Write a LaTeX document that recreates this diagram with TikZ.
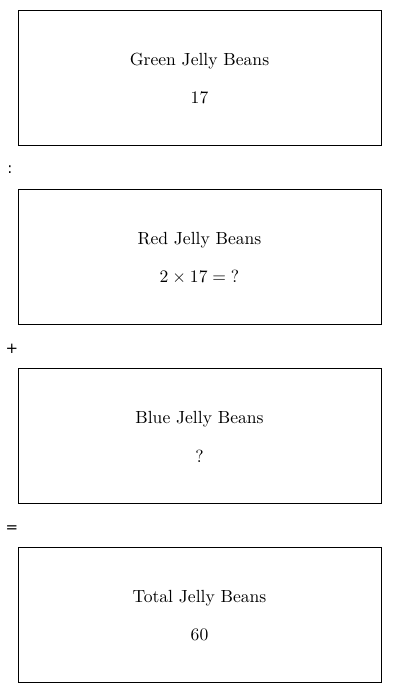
\documentclass[tikz,border=0pt]{standalone}
\usepackage{fontspec}
\usepackage{amsmath}
\newfontfamily\opfont{DejaVu Sans}

\begin{document}
\begin{tikzpicture}
  [x=0.02cm,y=-0.02cm,
   beanbox/.style={draw,line width=0.5pt,minimum width=7.26cm,minimum height=2.7cm,inner sep=0pt},
   beantext/.style={font=\fontsize{10}{12}\selectfont,inner sep=0pt},
   opsign/.style={font=\opfont\fontsize{8.5}{10}\selectfont,inner sep=0pt}]
  \useasboundingbox (0,0) rectangle (400,693);
  % the four boxes
  \foreach \name/\y/\title/\count in {green/77.5/Green/17,red/256.5/Red/{$2\times17=\mathord{?}$},blue/435.5/Blue/?,total/614.5/Total/60}
  {
    \node[beanbox] (\name) at (199.5,\y) {};
    \node[beantext] (\name title) at ([yshift=0.33cm]\name.center) {\title{} Jelly Beans};
    \node[beantext] (\name count) at ([yshift=-0.41cm]\name.center) {\count};
  }
  % signs between the boxes
  \node[opsign] (colon) at (10,170) {:};
  \node[opsign] (plus) at (12,349) {+};
  \node[opsign] (equals) at (12,529) {=};
\end{tikzpicture}
\end{document}
